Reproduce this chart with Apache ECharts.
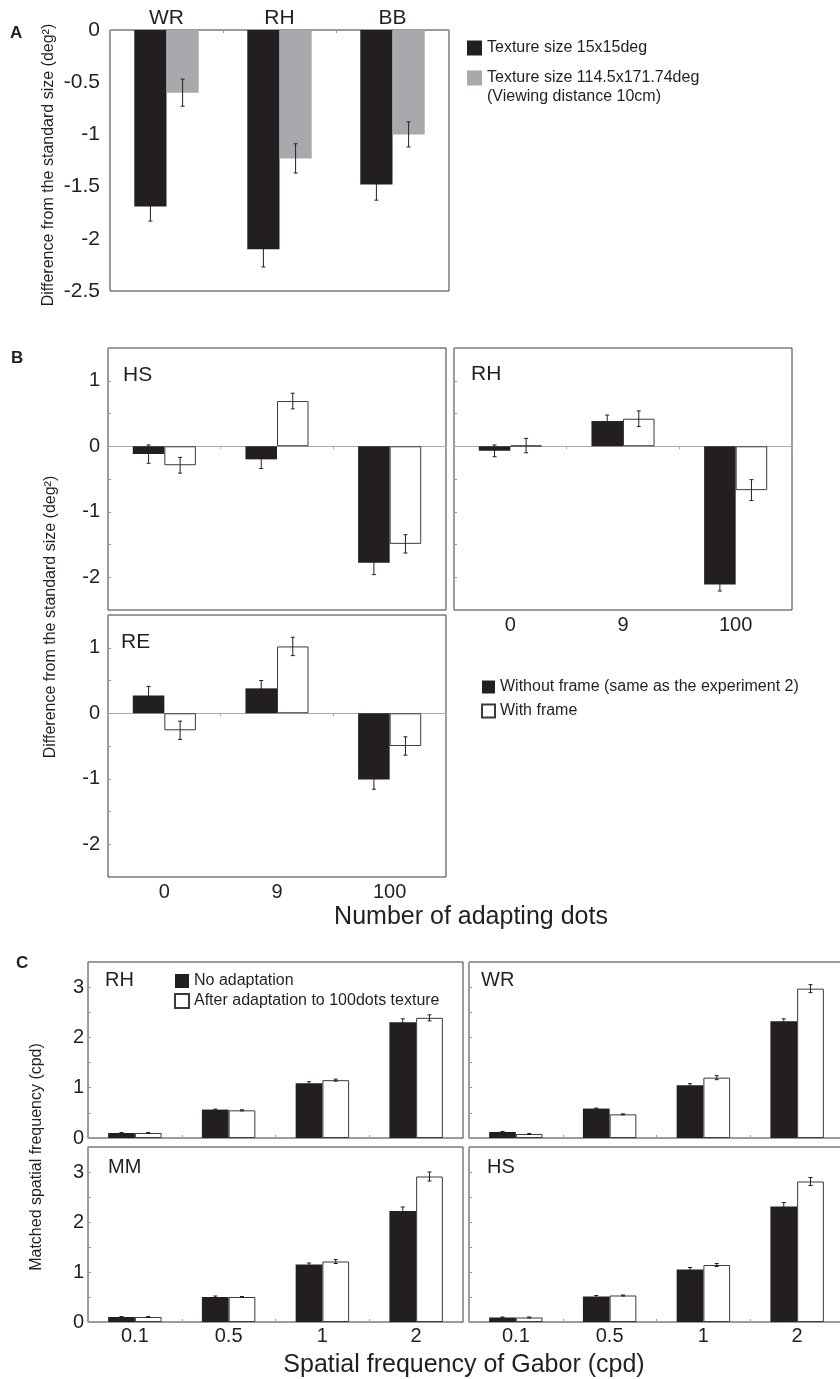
<!DOCTYPE html>
<html>
<head>
<meta charset="utf-8">
<script src="https://cdn.jsdelivr.net/npm/echarts@6/dist/echarts.min.js"></script>
<style>
  html, body { margin: 0; padding: 0; background: #fff; }
  #fig { width: 840px; height: 1379px; }
</style>
</head>
<body>
<div id="fig"></div>
<script>
// ---- data ----
// Panel A
const subjectsA = ['WR', 'RH', 'BB'];
const smallTexture = [-1.69, -2.10, -1.48];
const smallTextureErr = [0.14, 0.17, 0.15];
const largeTexture = [-0.60, -1.23, -1.00];
const largeTextureErr = [0.13, 0.14, 0.12];

// Panel B
const dotCounts = ['0', '9', '100'];
const hsNoFrame = [-0.12, -0.20, -1.78];
const hsNoFrameErr = [0.14, 0.14, 0.18];
const hsFrame = [-0.29, 0.69, -1.49];
const hsFrameErr = [0.12, 0.12, 0.14];
const rhNoFrame = [-0.07, 0.385, -2.11];
const rhNoFrameErr = [0.09, 0.09, 0.10];
const rhFrame = [0.01, 0.42, -0.67];
const rhFrameErr = [0.11, 0.12, 0.16];
const reNoFrame = [0.27, 0.38, -1.01];
const reNoFrameErr = [0.14, 0.12, 0.15];
const reFrame = [-0.26, 1.02, -0.50];
const reFrameErr = [0.14, 0.14, 0.14];

// Panel C
const gaborFreqs = ['0.1', '0.5', '1', '2'];
const rhNoAdapt = [0.10, 0.565, 1.09, 2.30];
const rhNoAdaptErr = [0.01, 0.01, 0.03, 0.07];
const rhAdapt = [0.10, 0.55, 1.15, 2.39];
const rhAdaptErr = [0.01, 0.01, 0.02, 0.06];
const wrNoAdapt = [0.12, 0.585, 1.05, 2.32];
const wrNoAdaptErr = [0.01, 0.01, 0.03, 0.05];
const wrAdapt = [0.08, 0.47, 1.20, 2.97];
const wrAdaptErr = [0.01, 0.01, 0.04, 0.08];
const mmNoAdapt = [0.10, 0.50, 1.15, 2.22];
const mmNoAdaptErr = [0.01, 0.02, 0.03, 0.08];
const mmAdapt = [0.10, 0.50, 1.21, 2.91];
const mmAdaptErr = [0.01, 0.01, 0.04, 0.09];
const hsNoAdapt = [0.09, 0.51, 1.05, 2.31];
const hsNoAdaptErr = [0.01, 0.02, 0.04, 0.08];
const hsAdapt = [0.09, 0.53, 1.14, 2.81];
const hsAdaptErr = [0.01, 0.01, 0.03, 0.08];

// legend names
const nameSmall = 'Texture size 15x15deg';
const nameLarge = 'Texture size 114.5x171.74deg';
const nameNoFrame = 'Without frame (same as the experiment 2)';
const nameFrame = 'With frame';
const nameNoAdapt = 'No adaptation';
const nameAdapt = 'After adaptation to 100dots texture';

// ---- styling ----
const FONT = 'Liberation Sans, Arial, Helvetica, sans-serif';
const INK = '#231f20';
const BLACK_BAR = { color: '#231f20' };
const GRAY_BAR = { color: '#a7a9ac' };
const WHITE_BAR = { color: '#ffffff', borderColor: '#3a3a3a', borderWidth: 1 };

const chart = echarts.init(document.getElementById('fig'), null, { renderer: 'canvas' });

const grid = [], xAxis = [], yAxis = [], series = [];

// error bar drawn at the centre of one of the two paired bars
function errRender(offsetFrac) {
    return function (params, api) {
        const idx = api.value(0), v = api.value(1), e = api.value(2);
        const band = api.size([1, 0])[0];
        const x = api.coord([idx, v])[0] + offsetFrac * band;
        const yHi = api.coord([idx, v + e])[1];
        const yLo = api.coord([idx, v - e])[1];
        const st = { stroke: INK, lineWidth: 1 };
        return {
            type: 'group',
            children: [
                { type: 'line', shape: { x1: x, y1: yHi, x2: x, y2: yLo }, style: st },
                { type: 'line', shape: { x1: x - 2, y1: yHi, x2: x + 2, y2: yHi }, style: st },
                { type: 'line', shape: { x1: x - 2, y1: yLo, x2: x + 2, y2: yLo }, style: st }
            ]
        };
    };
}

function addPanel(p) {
    const gi = grid.length;
    grid.push({
        left: p.left, top: p.top, width: p.width, height: p.height,
        show: true, borderColor: '#3a3a3a', borderWidth: 1, backgroundColor: 'transparent',
        containLabel: false, outerBoundsMode: 'none'
    });
    const xi = xAxis.length;
    xAxis.push({
        gridIndex: gi, type: 'category', data: p.cats,
        position: p.xTop ? 'top' : 'bottom',
        axisLine: { show: p.xLine, onZero: !p.zeroLine, lineStyle: { color: '#999' } },
        axisTick: { show: p.xLine, inside: true, length: 3, lineStyle: { color: '#999' } },
        axisLabel: { show: p.xLabels, margin: p.xMargin, fontSize: p.xFont, color: INK, fontFamily: FONT },
        splitLine: { show: false }
    });
    if (p.zeroLine) {
        // grey line at y = 0
        xAxis.push({
            gridIndex: gi, type: 'category', data: p.cats, position: 'top',
            axisLine: { show: true, onZero: true, lineStyle: { color: '#aaa' } },
            axisTick: { show: true, inside: true, length: 3, lineStyle: { color: '#aaa' } },
            axisLabel: { show: false }
        });
    }
    const yi = yAxis.length;
    yAxis.push({
        gridIndex: gi, type: 'value', min: p.yMin, max: p.yMax, interval: 0.5,
        axisLine: { show: false },
        axisTick: { show: p.yTicks, inside: true, length: 3, lineStyle: { color: '#999' } },
        splitLine: { show: false },
        axisLabel: {
            show: p.yLabels, margin: p.yMargin, fontSize: p.yFont, color: INK, fontFamily: FONT,
            formatter: p.yFormat
        }
    });
    p.pairs.forEach((s) => {
        series.push({
            type: 'bar', name: s.name, xAxisIndex: xi, yAxisIndex: yi,
            data: s.values, barWidth: p.barPct + '%', barGap: '0%',
            itemStyle: s.style, z: 2
        });
    });
    p.pairs.forEach((s, k) => {
        const off = (k === 0 ? -1 : 1) * p.barPct / 200;
        series.push({
            type: 'custom', name: 'err-' + gi + '-' + k, xAxisIndex: xi, yAxisIndex: yi,
            renderItem: errRender(off), encode: { x: 0, y: 1 }, z: 5,
            data: s.values.map((v, i) => [i, v, s.err[i]])
        });
    });
}

const intOnly = v => (Math.abs(v - Math.round(v)) < 1e-9 ? String(Math.round(v)) : '');

// Panel A
addPanel({
    left: 110, top: 30, width: 339, height: 261, cats: subjectsA, xTop: true, xLine: true,
    xLabels: true, xMargin: 1, xFont: 21, yMin: -2.5, yMax: 0, yLabels: true, yTicks: false,
    yMargin: 10, yFont: 21, yFormat: v => String(v), barPct: 28.5,
    pairs: [
        { name: nameSmall, values: smallTexture, err: smallTextureErr, style: BLACK_BAR },
        { name: nameLarge, values: largeTexture, err: largeTextureErr, style: GRAY_BAR }
    ]
});

// Panel B
const bCommon = { width: 338, height: 262, cats: dotCounts, xLine: false, zeroLine: true,
    xMargin: 5, xFont: 20, yMin: -2.5, yMax: 1.5, yTicks: true, yMargin: 8, yFont: 20,
    yFormat: intOnly, barPct: 28 };
addPanel(Object.assign({}, bCommon, {
    left: 108, top: 348, xLabels: false, yLabels: true,
    pairs: [
        { name: nameNoFrame, values: hsNoFrame, err: hsNoFrameErr, style: BLACK_BAR },
        { name: nameFrame, values: hsFrame, err: hsFrameErr, style: WHITE_BAR }
    ]
}));
addPanel(Object.assign({}, bCommon, {
    left: 454, top: 348, xLabels: true, yLabels: false,
    pairs: [
        { name: nameNoFrame, values: rhNoFrame, err: rhNoFrameErr, style: BLACK_BAR },
        { name: nameFrame, values: rhFrame, err: rhFrameErr, style: WHITE_BAR }
    ]
}));
addPanel(Object.assign({}, bCommon, {
    left: 108, top: 615, xLabels: true, yLabels: true,
    pairs: [
        { name: nameNoFrame, values: reNoFrame, err: reNoFrameErr, style: BLACK_BAR },
        { name: nameFrame, values: reFrame, err: reFrameErr, style: WHITE_BAR }
    ]
}));

// Panel C
const cCommon = { width: 375, cats: gaborFreqs, xLine: true, xMargin: 4, xFont: 20,
    yMin: 0, yMax: 3.5, yTicks: true, yMargin: 4, yFont: 20, yFormat: intOnly, barPct: 28.5 };
const cPanels = [
    { left: 88, top: 962, height: 176, xLabels: false, yLabels: true, a: rhNoAdapt, ae: rhNoAdaptErr, b: rhAdapt, be: rhAdaptErr },
    { left: 469, top: 962, height: 176, xLabels: false, yLabels: false, a: wrNoAdapt, ae: wrNoAdaptErr, b: wrAdapt, be: wrAdaptErr },
    { left: 88, top: 1147, height: 175, xLabels: true, yLabels: true, a: mmNoAdapt, ae: mmNoAdaptErr, b: mmAdapt, be: mmAdaptErr },
    { left: 469, top: 1147, height: 175, xLabels: true, yLabels: false, a: hsNoAdapt, ae: hsNoAdaptErr, b: hsAdapt, be: hsAdaptErr }
];
cPanels.forEach(c => {
    addPanel(Object.assign({}, cCommon, {
        left: c.left, top: c.top, height: c.height, xLabels: c.xLabels, yLabels: c.yLabels,
        pairs: [
            { name: nameNoAdapt, values: c.a, err: c.ae, style: BLACK_BAR },
            { name: nameAdapt, values: c.b, err: c.be, style: WHITE_BAR }
        ]
    }));
});

// ---- text ----
function txt(str, x, y, size, opts) {
    opts = opts || {};
    return {
        type: 'text', x: x, y: y, rotation: opts.rotation || 0, silent: true, z: 10,
        style: {
            text: str, fill: INK,
            font: (opts.bold ? 'bold ' : '') + size + 'px ' + FONT,
            align: opts.align || 'left', verticalAlign: 'middle',
            textAlign: opts.align || 'left', textVerticalAlign: 'middle'
        }
    };
}

const graphic = [
    txt('A', 10, 33, 17, { bold: true }),
    txt('B', 11, 358, 17, { bold: true }),
    txt('C', 16, 963, 17, { bold: true }),
    txt('Difference from the standard size (deg\u00b2)', 49, 165, 16, { rotation: Math.PI / 2, align: 'center' }),
    txt('Difference from the standard size (deg\u00b2)', 51, 617, 16, { rotation: Math.PI / 2, align: 'center' }),
    txt('Matched spatial frequency (cpd)', 37, 1157, 16, { rotation: Math.PI / 2, align: 'center' }),
    txt('(Viewing distance 10cm)', 487, 97, 16),
    txt('HS', 123, 375, 21),
    txt('RH', 471, 374, 21),
    txt('RE', 121, 642, 21),
    txt('RH', 105, 980, 20),
    txt('WR', 481, 980, 20),
    txt('MM', 108, 1167, 20),
    txt('HS', 487, 1167, 20),
    txt('Number of adapting dots', 471, 917, 25, { align: 'center' }),
    txt('Spatial frequency of Gabor (cpd)', 464, 1365, 25, { align: 'center' })
];

const legendText = { fontSize: 16, color: INK, fontFamily: FONT };

const option = {
    animation: false,
    backgroundColor: '#fff',
    textStyle: { fontFamily: FONT },
    grid: grid,
    xAxis: xAxis,
    yAxis: yAxis,
    series: series,
    graphic: graphic,
    legend: [
        { data: [nameSmall, nameLarge], orient: 'vertical', left: 467, top: 40, padding: 0, itemWidth: 15, itemHeight: 15,
          itemGap: 14, icon: 'rect', textStyle: legendText, selectedMode: false },
        { data: [nameNoFrame, nameFrame], orient: 'vertical', left: 481, top: 679, padding: 0, itemWidth: 13, itemHeight: 13,
          itemGap: 8, icon: 'rect', textStyle: legendText, selectedMode: false },
        { data: [nameNoAdapt, nameAdapt], orient: 'vertical', left: 174, top: 973, padding: 0, itemWidth: 14, itemHeight: 14,
          itemGap: 4, icon: 'rect', textStyle: legendText, selectedMode: false }
    ]
};

chart.setOption(option);
</script>
</body>
</html>
